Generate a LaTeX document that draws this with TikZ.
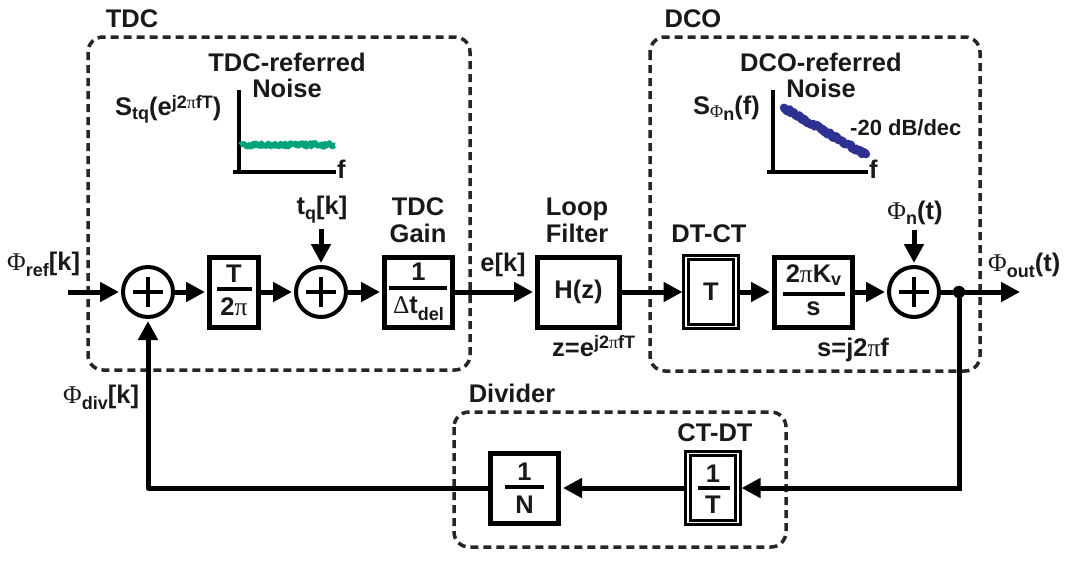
\documentclass[tikz,border=0pt]{standalone}
\usepackage{fontspec}
\setmainfont{Liberation Sans}
\newfontfamily\grk{Liberation Serif}
\usetikzlibrary{arrows.meta}
\newcommand\lo[2][5pt]{\raisebox{-#1}{\fontsize{18}{18}\selectfont #2}}
\newcommand\hi[2][8pt]{\raisebox{#1}{\fontsize{18}{18}\selectfont #2}}
\newcommand\Ph{{\grk\mdseries Φ}}
\newcommand\ppi{{\grk\mdseries π}}
\newcommand\Dlt{{\grk\mdseries Δ}}
\definecolor{noisegreen}{RGB}{0,163,122}
\definecolor{noiseblue}{RGB}{46,49,146}
\begin{document}
\begin{tikzpicture}[x=1pt,y=-1pt,
  every node/.style={font=\bfseries\fontsize{25.5}{27}\selectfont, inner sep=0pt, text=black!90},
  blk/.style={draw, line width=5pt, minimum width=#1, minimum height=70pt},
  dbl/.style={draw, line width=3pt, double=white, double distance=1.2pt, minimum width=#1, minimum height=68.8pt},
  sum/.style={draw, circle, line width=4pt, minimum size=50pt,
     path picture={\draw[line width=4pt] ([xshift=-15pt]path picture bounding box.center) -- ([xshift=15pt]path picture bounding box.center)
        ([yshift=-15pt]path picture bounding box.center) -- ([yshift=15pt]path picture bounding box.center);}},
  wire/.style={line width=5pt},
  arr/.style={wire, -{Triangle[length=19pt,width=19pt]}, shorten >=2pt},
  grp/.style={draw=black!85, line width=3.5pt, dash pattern=on 8pt off 5pt, rounded corners=15pt},
  bar/.style={line width=4pt},
  axis/.style={line width=3.5pt}]
\useasboundingbox (0,0) rectangle (1071,560);

% group frames
\draw[grp] (88,37) rectangle (470,370);
\draw[grp] (650,37) rectangle (980,371);
\draw[grp] (454,412) rectangle (786,547);
\node[anchor=base] (tdclab) at (132,27) {TDC};
\node[anchor=base] (dcolab) at (693,27) {DCO};
\node[anchor=base] (divlab) at (512,402) {Divider};

% noise plots
\node[anchor=base] (tn1) at (287,71) {TDC-referred};
\node[anchor=base] (tn2) at (287,97) {Noise};
\node[anchor=base west] (stq) at (115,115) {S\lo[4pt]{tq}(e\hi[7pt]{j2\ppi fT})};
\draw[axis] (239,90) -- (239,174);
\draw[axis] (233,172) -- (336,172);
\node[anchor=base west] (f1) at (337,178) {f};
\pgfmathsetseed{11}
\draw[noisegreen, line width=5.5pt, line join=round] plot[domain=240:335, samples=85] (\x, {145+2.2*rand});

\node[anchor=base] (dn1) at (821,71) {DCO-referred};
\node[anchor=base] (dn2) at (821,97) {Noise};
\node[anchor=base west] (sphi) at (693,114) {S\lo[3pt]{\Ph\lo[3pt]{n}}(f)};
\draw[axis] (773,90) -- (773,174);
\draw[axis] (767,172) -- (868,172);
\node[anchor=base west] (f2) at (869,178) {f};
\node[anchor=base west, font=\bfseries\fontsize{22}{24}\selectfont] (slope) at (850,135) {-20 dB/dec};
\draw[noiseblue, line width=8.5pt, line cap=round, line join=round] plot[domain=0:1, samples=60] ({784+82*\x}, {108+47*\x+1.6*rand});

% forward path
\coordinate (in) at (68,292);
\node[sum] (s1) at (148,292) {};
\node[blk=49pt] (b1) at (234,292) {};
\node[anchor=base] (b1n) at (234,282) {T};
\draw[bar] (217,289) -- (252,289);
\node[anchor=base] (b1d) at (234,315) {2\ppi};
\node[sum] (s2) at (321,292) {};
\node[blk=68pt] (b2) at (418.5,292) {};
\node[anchor=base] (b2n) at (418.5,280) {1};
\draw[bar] (389,288) -- (447,288);
\node[anchor=base] (b2d) at (418.5,313) {\Dlt t\lo[7pt]{del}};
\node[blk=82pt] (hz) at (578.5,292) {H(z)};
\node[dbl=50pt] (dtct) at (711,292) {T};
\node[blk=78pt] (kv) at (813.5,292) {};
\node[anchor=base] (kvn) at (813.5,282) {2\ppi K\lo[3pt]{v}};
\draw[bar] (783,294) -- (845,294);
\node[anchor=base] (kvd) at (813.5,315) {s};
\node[sum] (s3) at (914,292) {};
\node[circle, fill=black, draw, minimum size=12pt] (dot) at (959,292) {};
\coordinate (out) at (1022,292);

\coordinate (tq) at (321,229);
\coordinate (phn) at (914,230);
\node[anchor=base] (tqlab) at (322,214) {t\lo[5pt]{q}[k]};
\node[anchor=base] (phnlab) at (915,219) {\Ph\lo[5pt]{n}(t)};
\node[anchor=base] (g1) at (418,215) {TDC};
\node[anchor=base] (g2) at (418,242) {Gain};
\node[anchor=base] (lf1) at (577,215) {Loop};
\node[anchor=base] (lf2) at (577,242) {Filter};
\node[anchor=base] (dtlab) at (709,242) {DT-CT};
\node[anchor=base] (eklab) at (503,271) {e[k]};
\node[anchor=base west] (reflab) at (7,270) {\Ph\lo[6pt]{ref}[k]};
\node[anchor=base west] (outlab) at (988,271) {\Ph\lo[6pt]{out}(t)};
\node[anchor=base west] (zlab) at (552,356) {z=e\hi[8pt]{j2\ppi fT}};
\node[anchor=base west] (slab) at (817,356) {s=j2\ppi f};

% feedback path
\node[dbl=50pt] (ctdt) at (713,488) {};
\node[anchor=base] (ctn) at (713,482) {1};
\draw[bar] (698,488) -- (730,488);
\node[anchor=base] (ctd) at (713,513) {T};
\node[anchor=base] (ctlab) at (715,441) {CT-DT};
\node[blk=68pt] (ninv) at (524.5,488) {};
\node[anchor=base] (nn) at (524.5,480) {1};
\draw[bar] (505,487) -- (544,487);
\node[anchor=base] (nd) at (524.5,513) {N};
\node[anchor=base west] (divk) at (63,403) {\Ph\lo[6pt]{div}[k]};

% connectors
\draw[arr] (in) -- (s1);
\draw[arr] (s1) -- (b1);
\draw[arr] (b1) -- (s2);
\draw[arr] (s2) -- (b2);
\draw[arr] (b2) -- (hz);
\draw[arr] (hz) -- (dtct);
\draw[arr] (dtct) -- (kv);
\draw[arr] (kv) -- (s3);
\draw[wire] (s3) -- (dot);
\draw[arr] (dot) -- (out);
\draw[arr] (tq) -- (s2);
\draw[arr] (phn) -- (s3);
\draw[arr] (dot) |- (ctdt);
\draw[arr] (ctdt) -- (ninv);
\draw[arr, line join=round] (ninv) -| (s1);
\end{tikzpicture}
\end{document}
